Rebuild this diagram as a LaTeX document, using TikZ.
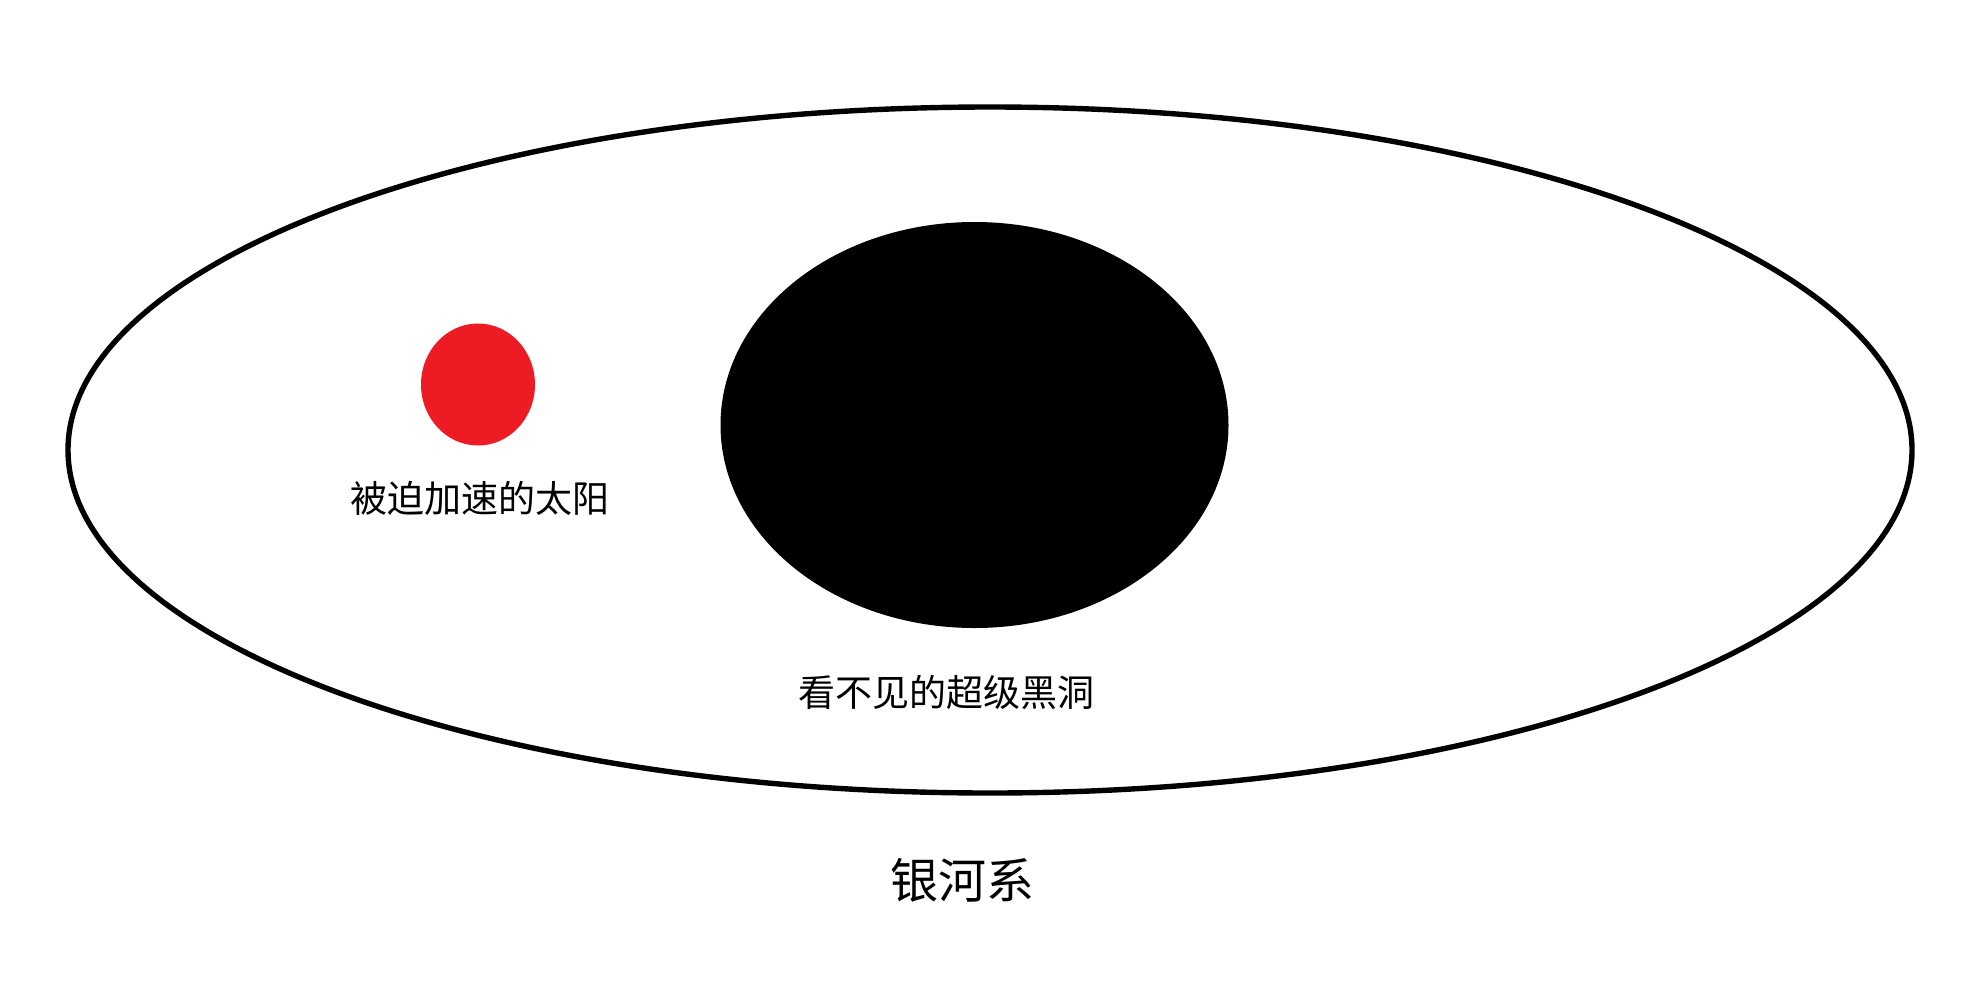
\documentclass[tikz,border=0pt]{standalone}
\usepackage{fontspec}
\newfontfamily\cjk{Noto Sans CJK SC}
\usepackage{tikz}
\definecolor{sunred}{RGB}{237,28,36}

\begin{document}
\begin{tikzpicture}[x=0.5pt,y=-0.5pt]
			\fill[white] (0,0) rectangle (1969,1001);
			\useasboundingbox (0,0) rectangle (1969,1001);
			\draw[color=black,line width=2.7pt] (990,450) ellipse (922 and 343);
			\fill[color=sunred] (478,384.5) ellipse (57 and 61);
			\fill[color=black] (974.5,425) ellipse (254 and 203);
			\node[font=\cjk\fontsize{18.5pt}{22pt}\selectfont] (sun) at (480,498.5) {被迫加速的太阳};
			\node[font=\cjk\fontsize{18.5pt}{22pt}\selectfont] (hole) at (946,692) {看不见的超级黑洞};
			\node[font=\cjk\fontsize{24pt}{28pt}\selectfont] (galaxy) at (962,880) {银河系};
\end{tikzpicture}
\end{document}
